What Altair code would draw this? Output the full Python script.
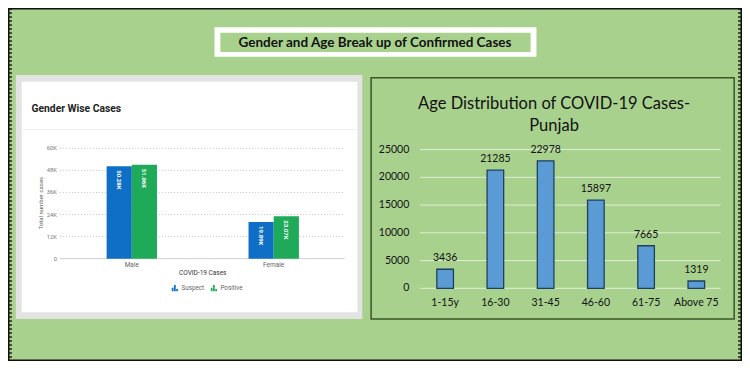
import altair as alt
import pandas as pd

# ---------------- data ----------------
genders = ["Male", "Female"]
series_names = ["Suspect", "Positive"]
suspect = [50280, 19890]
positive = [51060, 23070]
left_ticks = [0, 12000, 24000, 36000, 48000, 60000]
left_tick_labels = ["0", "12K", "24K", "36K", "48K", "60K"]

age_groups = ["1-15y", "16-30", "31-45", "46-60", "61-75", "Above 75"]
age_cases = [3436, 21285, 22978, 15897, 7665, 1319]
right_ticks = [0, 5000, 10000, 15000, 20000, 25000]

# ---------------- layout helpers ----------------
W, H = 734, 353
SX, SY = W / 750, H / 369


def X(v):
    return round(v * SX, 2)


def Y(v):
    return round(v * SY, 2)


GREEN_BG = "#a9d18e"
BLUE = "#0f6fc6"
GREEN = "#1faa59"
one = pd.DataFrame({"k": [0]})


def box(x1, y1, x2, y2, **kw):
    return alt.Chart(one).mark_rect(**kw).encode(
        x=alt.value(X(x1)), x2=alt.value(X(x2)), y=alt.value(Y(y1)), y2=alt.value(Y(y2))
    )


def txt(s, x, y, **kw):
    return alt.Chart(one).mark_text(text=s, **kw).encode(x=alt.value(X(x)), y=alt.value(Y(y)))


# ---------------- decorations ----------------
deco = [
    box(211, 20, 540, 51, fill="white"),
    box(217, 26, 534, 46, fill=GREEN_BG),
    txt("Gender and Age Break up of Confirmed Cases", 375, 37, font="Lato", fontWeight="bold",
        fontSize=13.5, color="#111", baseline="middle"),
    box(8, 70, 362, 325, fill="#e3e3e3"),
    box(14, 77, 357, 318, fill="white"),
    alt.Chart(one).mark_rule(color="#efefef").encode(
        x=alt.value(X(14)), x2=alt.value(X(357)), y=alt.value(Y(127))),
    txt("Gender Wise Cases", 24, 106, font="Roboto", fontWeight="bold", fontSize=10.3,
        color="#222", align="left", baseline="middle"),
    txt("Total number cases", 34, 204, font="Roboto", fontSize=6, color="#666",
        angle=270, baseline="middle"),
    txt("COVID-19 Cases", 199, 277, font="Roboto", fontSize=6.5, color="#333", baseline="middle"),
    box(371, 73, 742, 325, fill=GREEN_BG, stroke="#385723", strokeWidth=1.5),
    txt("Age Distribution of COVID-19 Cases-", 558, 100, font="Lato", fontSize=16.5,
        color="#111", baseline="middle"),
    txt("Punjab", 558, 123, font="Lato", fontSize=16.5, color="#111", baseline="middle"),
]

# ---------------- left chart (gender) ----------------
gdf = pd.DataFrame({
    "gender": genders * 2,
    "series": [series_names[0]] * len(genders) + [series_names[1]] * len(genders),
    "value": suspect + positive,
})
gdf["label"] = [f"{v / 1000:.2f}K" for v in gdf["value"]]
ltick_df = pd.DataFrame({"tick": left_ticks, "lab": left_tick_labels})

lx = alt.Scale(domain=genders, range=[X(54), X(344)], paddingInner=0.645, paddingOuter=0.3225)
ly = alt.Scale(domain=[0, 60000], range=[Y(262), Y(146.7)])

icon = "M-1,1V-0.1H-0.45V1Z M-0.3,1V-1H0.25V1Z M0.4,1V0.3H0.95V1Z"

grid_l = alt.Chart(ltick_df).transform_filter("datum.tick > 0").mark_rule(
    color="#c4c4c4", strokeDash=[1, 2]).encode(
    y=alt.Y("tick:Q", scale=ly, axis=None), x=alt.value(X(53)), x2=alt.value(X(344)))
base_l = alt.Chart(ltick_df).transform_filter("datum.tick == 0").mark_rule(
    color="#cfcfcf").encode(
    y=alt.Y("tick:Q", scale=ly, axis=None), x=alt.value(X(53)), x2=alt.value(X(344)))
ticklab_l = alt.Chart(ltick_df).mark_text(
    align="right", baseline="middle", font="Roboto", fontSize=5.8, color="#777").encode(
    y=alt.Y("tick:Q", scale=ly, axis=None), x=alt.value(X(50)), text="lab:N")
bars_l = alt.Chart(gdf).mark_bar().encode(
    x=alt.X("gender:N", scale=lx, axis=None),
    xOffset=alt.XOffset("series:N", scale=alt.Scale(domain=series_names)),
    y=alt.Y("value:Q", scale=ly, axis=None),
    color=alt.Color("series:N", scale=alt.Scale(domain=series_names, range=[BLUE, GREEN]),
                    legend=alt.Legend(orient="none", legendX=X(167), legendY=Y(289),
                                      direction="horizontal", title=None, symbolType=icon,
                                      symbolSize=40, symbolStrokeWidth=0, labelFont="Roboto",
                                      labelFontSize=6.3, labelColor="#666", columnPadding=6,
                                      labelOffset=3)),
)
vals_l = alt.Chart(gdf).mark_text(
    angle=90, align="left", baseline="middle", dx=4, color="white", font="Roboto",
    fontSize=6, fontWeight="bold").encode(
    x=alt.X("gender:N", scale=lx, axis=None),
    xOffset=alt.XOffset("series:N", scale=alt.Scale(domain=series_names)),
    y=alt.Y("value:Q", scale=ly, axis=None),
    text="label:N")
catlab_l = alt.Chart(pd.DataFrame({"gender": genders})).mark_text(
    font="Roboto", fontSize=6.5, color="#666", baseline="middle").encode(
    x=alt.X("gender:N", scale=lx, axis=None), y=alt.value(Y(269)), text="gender:N")

left = alt.layer(grid_l, base_l, ticklab_l, bars_l, vals_l, catlab_l)

# ---------------- right chart (age) ----------------
adf = pd.DataFrame({"age": age_groups, "cases": age_cases})
rtick_df = pd.DataFrame({"tick": right_ticks})
rx = alt.Scale(domain=age_groups, range=[X(421), X(729)], paddingInner=0.67, paddingOuter=0.335)
ry = alt.Scale(domain=[0, 25000], range=[Y(293), Y(148)])

grid_r = alt.Chart(rtick_df).mark_rule(color="#e0eed6", strokeWidth=1).encode(
    y=alt.Y("tick:Q", scale=ry, axis=None), x=alt.value(X(421)), x2=alt.value(X(728)))
ticklab_r = alt.Chart(rtick_df).mark_text(
    align="right", baseline="middle", font="Lato", fontSize=10.5, color="#111").encode(
    y=alt.Y("tick:Q", scale=ry, axis=None), x=alt.value(X(410)),
    text=alt.Text("tick:Q", format="d"))
bars_r = alt.Chart(adf).mark_bar(fill="#5b9bd5", stroke="#203f5e", strokeWidth=1.3).encode(
    x=alt.X("age:N", scale=rx, axis=None), y=alt.Y("cases:Q", scale=ry, axis=None))
vals_r = alt.Chart(adf).mark_text(
    dy=-11, font="Lato", fontSize=10.5, color="#111", baseline="middle").encode(
    x=alt.X("age:N", scale=rx, axis=None), y=alt.Y("cases:Q", scale=ry, axis=None),
    text=alt.Text("cases:Q", format="d"))
catlab_r = alt.Chart(adf).mark_text(
    font="Lato", fontSize=10.5, color="#111", baseline="middle").encode(
    x=alt.X("age:N", scale=rx, axis=None), y=alt.value(Y(308)), text="age:N")

right = alt.layer(grid_r, ticklab_r, bars_r, vals_r, catlab_r)

# ---------------- frame ----------------
frame = [
    alt.Chart(one).mark_rule(strokeDash=[2, 2], strokeWidth=4, color="#3d5030").encode(
        x=alt.value(X(2)), y=alt.value(0), y2=alt.value(H)),
    alt.Chart(one).mark_rule(strokeDash=[2, 2], strokeWidth=4, color="#3d5030").encode(
        x=alt.value(X(748)), y=alt.value(0), y2=alt.value(H)),
    box(0, 0, 750, 369, fillOpacity=0, stroke="#111", strokeWidth=3),
]

chart = alt.layer(*deco, left, right, *frame).resolve_scale(
    x="independent", y="independent"
).properties(
    width=W, height=H, padding=0,
    autosize=alt.AutoSizeParams(type="none"),
    background=GREEN_BG,
).configure_view(stroke=None)

chart.save("out.html", embed_options={"renderer": "svg", "actions": False})
